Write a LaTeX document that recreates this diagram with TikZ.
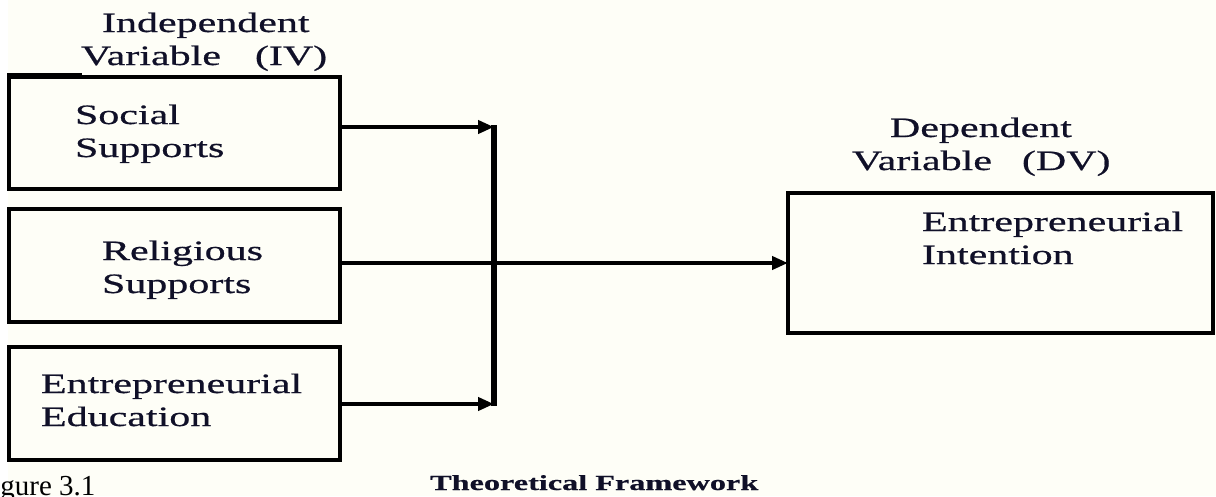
\documentclass[tikz,border=0pt]{standalone}
\usepackage{fontspec}
\setmainfont{Liberation Serif}
\newfontfamily\cam[FakeStretch=1.5,FakeBold=0.6]{Liberation Serif}
\usetikzlibrary{arrows.meta}
\definecolor{cream}{HTML}{FEFEF7}
\definecolor{ink}{HTML}{101028}
\begin{document}
\begin{tikzpicture}[x=1pt,y=-1pt,
  box/.style={draw=black, line width=4.5pt, inner sep=0pt, outer sep=0pt, anchor=north west},
  lbl/.style={font=\cam\fontsize{28}{33}\selectfont, text=ink, anchor=base west, inner sep=0pt, outer sep=0pt},
  conn/.style={line width=4pt, -{Triangle[length=16pt,width=13pt]}},
  bar/.style={line width=6.5pt}
]
\useasboundingbox (0,0) rectangle (1216,496);
\fill[white] (0,0) rectangle (1216,496);
\fill[cream] (8,0) rectangle (1216,496);

% boxes
\node[box, minimum width=331pt, minimum height=112pt] (ss) at (9,77) {};
\node[box, minimum width=331pt, minimum height=113pt] (rs) at (9,209) {};
\node[box, minimum width=331pt, minimum height=113pt] (ee) at (9,347) {};
\node[box, minimum width=425pt, minimum height=140pt] (dv) at (788,193) {};
\draw[line width=3pt] (7,74.5) -- (82,74.5);

% labels
\node[lbl] (iv1) at (102,32) {Independent};
\node[lbl] (iv2) at (81,65) {Variable\hspace{34pt}(IV)};
\node[lbl] (ss1) at (75,124) {Social};
\node[lbl] (ss2) at (75,157) {Supports};
\node[lbl] (rs1) at (102,260) {Religious};
\node[lbl] (rs2) at (102,293) {Supports};
\node[lbl] (ee1) at (41,393) {Entrepreneurial};
\node[lbl] (ee2) at (41,426) {Education};
\node[lbl] (dv1) at (890,137) {Dependent};
\node[lbl] (dv2) at (852,170) {Variable\hspace{30pt}(DV)};
\node[lbl] (dv3) at (922,231) {Entrepreneurial};
\node[lbl] (dv4) at (922,264) {Intention};
\node[font=\cam\bfseries\fontsize{21.5}{26}\selectfont, text=ink, anchor=base west, inner sep=0pt] (cap) at (430,490) {Theoretical Framework};
\node[font=\fontsize{29}{34}\selectfont, text=black, anchor=base west, inner sep=0pt] (fig) at (-24,495) {Figure 3.1};

% connectors
\coordinate (j1) at (494,127);
\coordinate (j3) at (494,404);
\draw[bar] ([yshift=2pt]j1) -- ([yshift=-2pt]j3);
\draw[conn] (ss.east |- j1) -- (j1);
\draw[conn] (ee.east |- j3) -- (j3);
\draw[conn] (rs.east |- dv.west) -- (dv.west);
\end{tikzpicture}
\end{document}
